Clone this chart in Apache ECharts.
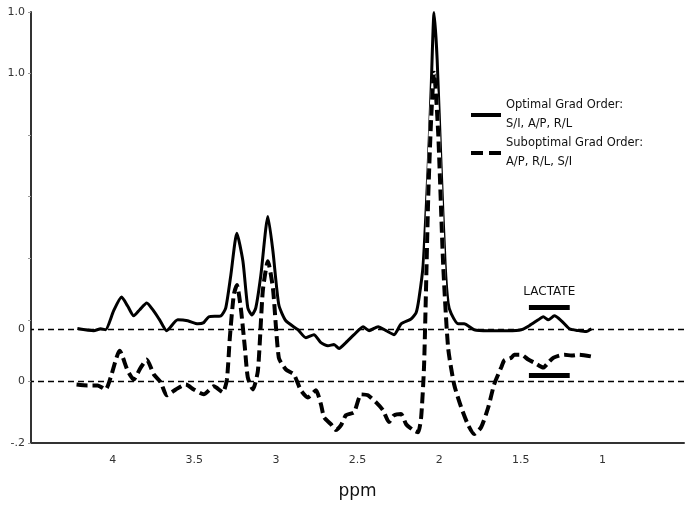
<!DOCTYPE html>
<html>
<head>
<meta charset="utf-8">
<script src="https://cdn.jsdelivr.net/npm/echarts@6/dist/echarts.min.js"></script>
<style>html,body{margin:0;padding:0;background:#fff}#c{width:694px;height:505px}</style>
</head>
<body>
<div id="c"></div>
<script>
// ---- data ----
var seriesNames = ["Optimal Grad Order:\nS/I, A/P, R/L", "Suboptimal Grad Order:\nA/P, R/L, S/I"];
var optimalPpm = [4.216,4.116,4.073,4.043,3.994,3.945,3.908,3.871,3.834,3.791,3.754,3.712,3.669,3.601,3.540,3.478,3.442,3.411,3.337,3.307,3.276,3.239,3.202,3.172,3.147,3.123,3.092,3.049,3.018,2.982,2.939,2.865,2.816,2.767,2.724,2.681,2.644,2.613,2.571,2.521,2.466,2.429,2.374,2.325,2.276,2.233,2.172,2.141,2.123,2.098,2.067,2.049,2.031,2.012,1.988,1.963,1.945,1.926,1.883,1.847,1.785,1.699,1.663,1.577,1.497,1.448,1.393,1.362,1.331,1.294,1.251,1.202,1.147,1.098,1.067];
var optimalVal = [0.004,-0.003,0.003,0.000,0.061,0.106,0.077,0.045,0.065,0.087,0.065,0.032,-0.003,0.032,0.029,0.019,0.023,0.042,0.045,0.071,0.177,0.313,0.223,0.071,0.048,0.071,0.177,0.368,0.255,0.081,0.029,0.000,-0.026,-0.016,-0.042,-0.052,-0.048,-0.061,-0.042,-0.016,0.010,-0.003,0.010,-0.003,-0.016,0.019,0.035,0.055,0.103,0.210,0.532,0.781,1.030,0.877,0.532,0.210,0.087,0.052,0.019,0.019,0.000,-0.003,-0.003,-0.003,0.000,0.013,0.032,0.042,0.032,0.045,0.029,0.003,-0.003,-0.006,0.003];
var suboptimalPpm = [4.221,4.153,4.092,4.043,4.012,3.957,3.908,3.871,3.828,3.791,3.748,3.705,3.669,3.613,3.552,3.503,3.442,3.380,3.325,3.300,3.282,3.258,3.239,3.215,3.190,3.172,3.141,3.110,3.080,3.049,3.018,2.982,2.939,2.890,2.847,2.804,2.755,2.724,2.705,2.663,2.632,2.601,2.571,2.521,2.478,2.436,2.386,2.343,2.307,2.276,2.233,2.202,2.159,2.129,2.110,2.092,2.067,2.049,2.031,2.006,1.975,1.945,1.908,1.865,1.822,1.785,1.742,1.699,1.663,1.620,1.601,1.558,1.540,1.497,1.454,1.417,1.362,1.331,1.300,1.233,1.190,1.141,1.067];
var suboptimalVal = [-0.010,-0.013,-0.013,-0.026,0.013,0.100,0.035,0.006,0.045,0.071,0.023,-0.003,-0.045,-0.026,-0.010,-0.026,-0.042,-0.016,-0.035,0.006,0.142,0.281,0.313,0.239,0.110,0.013,-0.026,0.035,0.294,0.390,0.303,0.077,0.039,0.023,-0.029,-0.052,-0.029,-0.074,-0.116,-0.139,-0.158,-0.142,-0.110,-0.100,-0.042,-0.045,-0.068,-0.094,-0.132,-0.110,-0.106,-0.139,-0.158,-0.165,-0.116,0.055,0.594,0.852,1.003,0.810,0.377,0.110,-0.010,-0.084,-0.142,-0.171,-0.148,-0.084,-0.010,0.045,0.068,0.077,0.087,0.087,0.071,0.061,0.045,0.061,0.077,0.087,0.084,0.087,0.081];
var optimalOffset = 0.168;          // vertical offset of the optimal trace's baseline
var lactateRange = [1.45, 1.20];    // ppm range of the lactate bars
var lactateLevels = [0.242, 0.019]; // heights of the two lactate bars
var yTickLabels = {"1.2": "1.0", "1": "1.0", "0": "0", "-0.2": "-.2"};
var xLabel = "ppm";
var lactateText = "LACTATE";

// ---- build ----
var optData = optimalPpm.map(function (p, i) { return [p, optimalVal[i] + optimalOffset]; });
var subData = suboptimalPpm.map(function (p, i) { return [p, suboptimalVal[i]]; });
var FONT = "DejaVu Sans";

var chart = echarts.init(document.getElementById('c'), null, {renderer: 'canvas'});
chart.setOption({
  animation: false,
  backgroundColor: '#fff',
  textStyle: {fontFamily: FONT},
  grid: {left: 31, right: 10, top: 12, bottom: 59},
  legend: {
    data: [
      {name: seriesNames[0], icon: 'path://M0,0L30,0L30,4L0,4Z'},
      {name: seriesNames[1], icon: 'path://M0,0L12,0L12,4L0,4ZM18,0L30,0L30,4L18,4Z'}
    ],
    orient: 'vertical',
    left: 466, top: 91,
    itemWidth: 30, itemHeight: 4, itemGap: 0,
    selectedMode: false,
    textStyle: {fontFamily: FONT, fontSize: 11.5, color: '#111', lineHeight: 19},
    itemStyle: {color: '#000'}
  },
  xAxis: {
    type: 'value', inverse: true, min: 0.5, max: 4.5, interval: 0.5,
    name: xLabel, nameLocation: 'middle', nameGap: 40,
    nameTextStyle: {fontFamily: FONT, fontSize: 17, color: '#111'},
    axisLine: {onZero: false, lineStyle: {color: '#333', width: 2}},
    axisTick: {show: false},
    splitLine: {show: false},
    axisLabel: {showMinLabel: false, showMaxLabel: false, color: '#333', fontSize: 11, margin: 12}
  },
  yAxis: {
    type: 'value', min: -0.2, max: 1.2, interval: 0.2,
    axisLine: {show: true, onZero: false, lineStyle: {color: '#333', width: 2}},
    axisTick: {show: true, length: 3, lineStyle: {color: '#999'}},
    splitLine: {show: false},
    axisLabel: {
      color: '#333', fontSize: 11, margin: 6, showMaxLabel: true,
      formatter: function (v) {
        var k = String(Math.round(v * 10) / 10);
        return yTickLabels[k] !== undefined ? yTickLabels[k] : '';
      }
    }
  },
  series: [
    {
      name: seriesNames[0], type: 'line', data: optData, showSymbol: false, symbol: 'none',
      smooth: 0.2, clip: false,
      lineStyle: {color: '#000', width: 3}, itemStyle: {color: '#000'}, z: 2,
      markLine: {
        silent: true, symbol: 'none', animation: false,
        data: [
          {yAxis: optimalOffset, lineStyle: {color: '#000', width: 1.3, type: [6, 4]},
           label: {show: true, position: 'end', formatter: '0', color: '#333', fontSize: 11, distance: 6, fontFamily: FONT}},
          [
            {coord: [lactateRange[0], lactateLevels[0]], lineStyle: {color: '#000', width: 5, type: 'solid'},
             label: {show: true, position: 'insideMiddleTop', formatter: lactateText, color: '#111', fontSize: 12, distance: 9, fontFamily: FONT}},
            {coord: [lactateRange[1], lactateLevels[0]]}
          ]
        ]
      }
    },
    {
      name: 'underlay', type: 'line', data: subData, showSymbol: false, symbol: 'none',
      smooth: 0.2, lineStyle: {color: '#fff', width: 4}, z: 3, silent: true
    },
    {
      name: seriesNames[1], type: 'line', data: subData, showSymbol: false, symbol: 'none',
      smooth: 0.2,
      lineStyle: {color: '#000', width: 4, type: [11, 5]}, itemStyle: {color: '#000'}, z: 4,
      markLine: {
        silent: true, symbol: 'none', animation: false,
        data: [
          {yAxis: 0, lineStyle: {color: '#000', width: 1.3, type: [6, 4]}, label: {show: false}},
          [
            {coord: [lactateRange[0], lactateLevels[1]], lineStyle: {color: '#000', width: 5, type: 'solid'}, label: {show: false}},
            {coord: [lactateRange[1], lactateLevels[1]]}
          ]
        ]
      }
    }
  ]
});
</script>
</body>
</html>
